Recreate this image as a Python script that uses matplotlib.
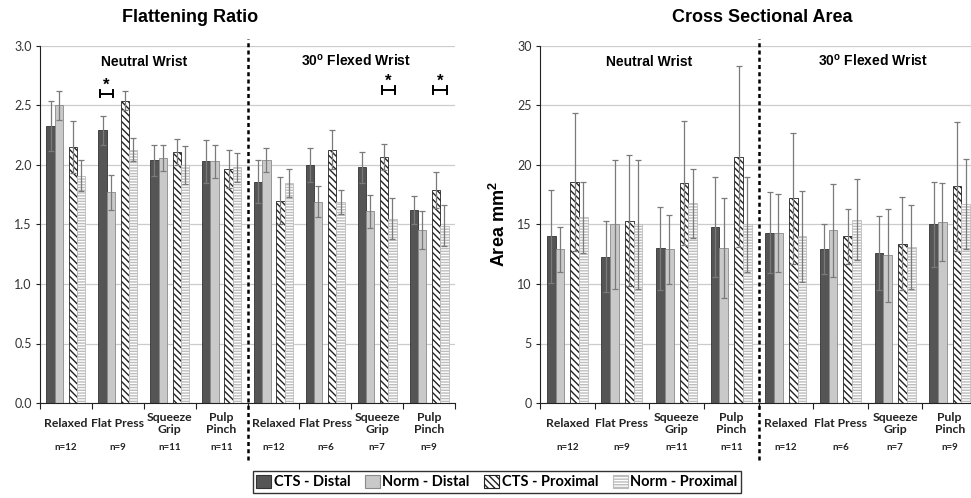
import matplotlib
matplotlib.use("Agg")
import matplotlib.pyplot as plt
import numpy as np
from matplotlib.patches import Patch
from matplotlib.lines import Line2D

plt.rcParams['font.family'] = ['Lato', 'DejaVu Sans']
plt.rcParams['hatch.linewidth'] = 1.0

categories = ["Relaxed", "Flat Press", "Squeeze\nGrip", "Pulp\nPinch",
              "Relaxed", "Flat Press", "Squeeze\nGrip", "Pulp\nPinch"]
n_labels = ["n=12", "n=9", "n=11", "n=11", "n=12", "n=6", "n=7", "n=9"]
series = ["CTS - Distal", "Norm - Distal", "CTS - Proximal", "Norm - Proximal"]

# Flattening ratio
fr_cts_d = [2.33, 2.29, 2.04, 2.03, 1.86, 2.00, 1.98, 1.62]
fr_norm_d = [2.50, 1.77, 2.06, 2.03, 2.04, 1.69, 1.61, 1.45]
fr_cts_p = [2.15, 2.54, 2.11, 1.97, 1.70, 2.13, 2.07, 1.79]
fr_norm_p = [1.91, 2.13, 2.00, 1.98, 1.85, 1.69, 1.55, 1.49]
fr_cts_d_err = [0.21, 0.12, 0.13, 0.18, 0.18, 0.14, 0.13, 0.12]
fr_norm_d_err = [0.12, 0.15, 0.11, 0.14, 0.10, 0.13, 0.14, 0.16]
fr_cts_p_err = [0.22, 0.08, 0.11, 0.16, 0.20, 0.16, 0.11, 0.15]
fr_norm_p_err = [0.13, 0.10, 0.16, 0.12, 0.12, 0.10, 0.17, 0.17]

# Cross sectional area
csa_cts_d = [14.0, 12.3, 13.0, 14.8, 14.3, 12.9, 12.6, 15.0]
csa_norm_d = [12.9, 15.0, 12.9, 13.0, 14.3, 14.5, 12.4, 15.2]
csa_cts_p = [18.6, 15.3, 18.5, 20.7, 17.2, 14.0, 13.4, 18.2]
csa_norm_p = [15.6, 15.0, 16.8, 15.0, 14.0, 15.4, 13.1, 16.7]
csa_cts_d_err = [3.9, 3.0, 3.5, 4.2, 3.4, 2.1, 3.1, 3.6]
csa_norm_d_err = [1.9, 5.4, 2.9, 4.2, 3.3, 3.9, 3.9, 3.3]
csa_cts_p_err = [5.8, 5.5, 5.2, 7.6, 5.5, 2.3, 3.9, 5.4]
csa_norm_p_err = [3.0, 5.4, 2.9, 4.0, 3.8, 3.4, 3.5, 3.8]

# significance brackets: (category index, series a, series b, y)
fr_sig = [(1, 0, 1, 2.60), (6, 2, 3, 2.63), (7, 2, 3, 2.63)]

styles = [
    dict(facecolor="#555555", edgecolor="#333333", hatch=None),
    dict(facecolor="#c9c9c9", edgecolor="#8a8a8a", hatch=None),
    dict(facecolor="white", edgecolor="#222222", hatch="\\\\\\\\\\"),
    dict(facecolor="white", edgecolor="#bdbdbd", hatch="------"),
]
offsets = [-0.295, -0.135, 0.135, 0.295]
bw = 0.16

fig = plt.figure(figsize=(9.71, 4.98), dpi=100)
ax1 = fig.add_axes([40/971, 1-403/498, 415/971, 357/498])
ax2 = fig.add_axes([540/971, 1-403/498, 437/971, 357/498])

def draw(ax, vals, errs, ymax, ystep, fmt, ylabel=None):
    x = np.arange(len(categories))
    for i in range(4):
        st = styles[i]
        ax.bar(x + offsets[i], vals[i], bw, facecolor=st['facecolor'],
               edgecolor=st['edgecolor'], hatch=st['hatch'], linewidth=0.6, zorder=2)
        ax.errorbar(x + offsets[i], vals[i], yerr=errs[i], fmt='none',
                    ecolor="#7a7a7a", elinewidth=0.9, capsize=2.5, capthick=0.9, zorder=3)
    ax.set_xlim(-0.5, len(categories) - 0.5)
    ax.set_ylim(0, ymax)
    ax.set_yticks(np.arange(0, ymax + 1e-9, ystep))
    ax.set_yticklabels([fmt.format(v) for v in np.arange(0, ymax + 1e-9, ystep)],
                       fontsize=9, color="#333333")
    ax.yaxis.grid(True, color="#cccccc", linewidth=0.9, zorder=0)
    ax.set_axisbelow(True)
    ax.spines['top'].set_visible(False)
    ax.spines['right'].set_visible(False)
    ax.spines['left'].set_color("#222222")
    ax.spines['bottom'].set_color("#222222")
    ax.tick_params(axis='y', length=3, color="#222222", pad=3)
    ax.set_xticks(np.arange(-0.5, len(categories) + 0.5, 1.0))
    ax.set_xticklabels([])
    ax.tick_params(axis='x', length=4, color="#222222")
    for i, (c, n) in enumerate(zip(categories, n_labels)):
        ax.text(i, -0.058, c, transform=ax.get_xaxis_transform(), ha='center', va='center',
                fontsize=8.8, fontweight='bold', color="#222222", linespacing=1.1)
        ax.text(i, -0.125, n, transform=ax.get_xaxis_transform(), ha='center', va='center',
                fontsize=7, fontweight='bold', color="#222222")
    ax.add_line(Line2D([3.5, 3.5], [-0.16, 1.02], transform=ax.get_xaxis_transform(),
                       color="black", linestyle=(0, (1.6, 1.3)), linewidth=1.8, clip_on=False))
    ax.text(1.5, 0.955, "Neutral Wrist", transform=ax.get_xaxis_transform(), ha='center',
            va='center', fontsize=10, fontweight='bold', family='Liberation Sans')
    ax.text(5.6, 0.96, "30$^\\mathregular{o}$ Flexed Wrist", transform=ax.get_xaxis_transform(),
            ha='center', va='center', fontsize=10, fontweight='bold', family='Liberation Sans')
    if ylabel:
        ax.set_ylabel(ylabel, fontsize=13, fontweight='bold', family='Liberation Sans', labelpad=6)

draw(ax1, [fr_cts_d, fr_norm_d, fr_cts_p, fr_norm_p],
     [fr_cts_d_err, fr_norm_d_err, fr_cts_p_err, fr_norm_p_err], 3.0, 0.5, "{:.1f}")
draw(ax2, [csa_cts_d, csa_norm_d, csa_cts_p, csa_norm_p],
     [csa_cts_d_err, csa_norm_d_err, csa_cts_p_err, csa_norm_p_err], 30, 5, "{:.0f}",
     ylabel="Area mm$^\\mathregular{2}$")

for ci, a, b, y in fr_sig:
    xa = ci + offsets[a] - 0.05
    xb = ci + offsets[b] + 0.05
    ax1.plot([xa, xb], [y, y], color="black", lw=1.4, zorder=4, clip_on=False)
    ax1.plot([xa, xa], [y - 0.03, y + 0.03], color="black", lw=1.4, zorder=4, clip_on=False)
    ax1.plot([xb, xb], [y - 0.03, y + 0.03], color="black", lw=1.4, zorder=4, clip_on=False)
    ax1.text((xa + xb) / 2, y + 0.01, "*", ha='center', va='bottom', fontsize=12,
             fontweight='bold', family='Liberation Sans')

fig.text(190/971, 1-18/498, "Flattening Ratio", ha='center', va='center',
         fontsize=13, fontweight='bold', family='Liberation Sans')
fig.text(762/971, 1-18/498, "Cross Sectional Area", ha='center', va='center',
         fontsize=13, fontweight='bold', family='Liberation Sans')

handles = [Patch(facecolor=s['facecolor'], edgecolor=s['edgecolor'] if i != 0 else "#333333",
                 hatch=s['hatch'], linewidth=0.8) for i, s in enumerate(styles)]
leg = fig.legend(handles, series, loc='center', bbox_to_anchor=(497/971, 1-482/498),
                 ncol=4, frameon=True, fancybox=False, edgecolor="black",
                 prop=dict(size=10.5, weight='bold'), handlelength=1.0, handleheight=1.0,
                 handletextpad=0.2, columnspacing=1.0, borderpad=0.25, borderaxespad=0)
leg.get_frame().set_linewidth(1.0)

fig.savefig("out.png", dpi=100)
